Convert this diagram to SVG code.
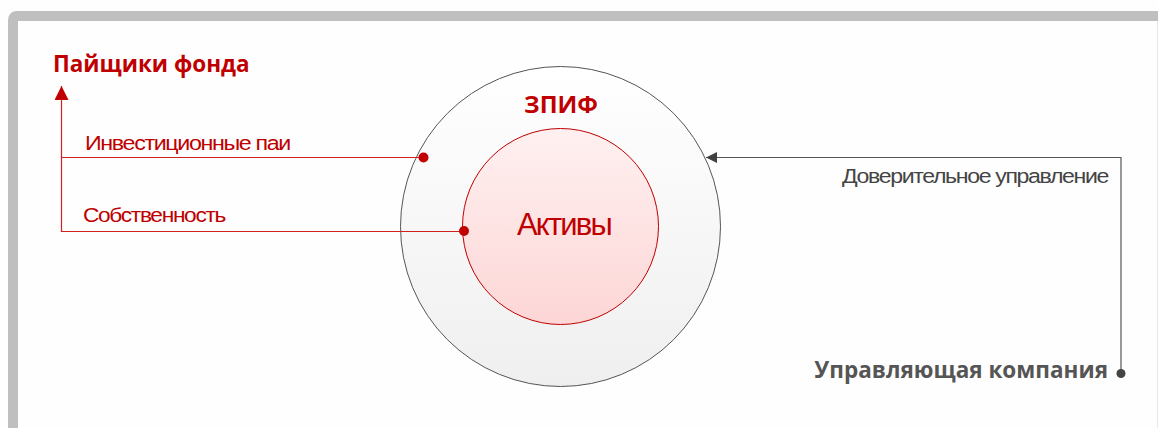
<svg xmlns="http://www.w3.org/2000/svg" width="1158" height="428" viewBox="0 0 1158 428">
<defs>
<linearGradient id="gOuter" x1="0" y1="0" x2="0" y2="1"><stop offset="0" stop-color="#ffffff"/><stop offset="1" stop-color="#efefef"/></linearGradient>
<linearGradient id="gInner" x1="0" y1="0" x2="0" y2="1"><stop offset="0" stop-color="#fff0f0"/><stop offset="1" stop-color="#fdd6d6"/></linearGradient>
<marker id="arrRed" viewBox="0 0 10 10" refX="10" refY="5" markerWidth="21" markerHeight="14" markerUnits="userSpaceOnUse" orient="auto"><path d="M0,0 L10,5 L0,10 Z" fill="#c00000"/></marker>
<marker id="arrGray" viewBox="0 0 10 10" refX="10" refY="5" markerWidth="11" markerHeight="12" markerUnits="userSpaceOnUse" orient="auto"><path d="M0,0 L10,5 L0,10 Z" fill="#404040"/></marker>
</defs>
<style>
.red{fill:#c00000}
.lbl{font-family:"Liberation Sans",Arial,sans-serif;font-size:20.5px;letter-spacing:-1.2px}
.bold{font-family:"Open Sans","Noto Sans",sans-serif;font-weight:bold}
</style>
<rect width="1158" height="428" fill="#fefefe"/>
<path d="M13,430 V20 Q13,16 17,16 H1162" fill="none" stroke="#bfbfbf" stroke-width="10"/>
<line x1="1157.5" y1="21" x2="1157.5" y2="428" stroke="#e8e8e8" stroke-width="1"/>

<g id="zpif">
<circle cx="560.5" cy="226.5" r="160" fill="url(#gOuter)" stroke="#555" stroke-width="1"/>
<text x="561" y="113" text-anchor="middle" class="bold red" font-size="24">ЗПИФ</text>
</g>
<g id="aktivy">
<circle cx="560.5" cy="226.5" r="98" fill="url(#gInner)" stroke="#c00000" stroke-width="1"/>
<text x="564" y="235" text-anchor="middle" class="red" font-family="Liberation Sans,Arial,sans-serif" font-size="31" letter-spacing="-1.8">Активы</text>
</g>
<g id="payshchiki">
<text x="53" y="72" class="bold red" font-size="22.5">Пайщики фонда</text>
</g>
<g id="uk">
<text x="1108" y="378" text-anchor="end" class="bold" font-size="22.5" fill="#555">Управляющая компания</text>
</g>

<g id="connectors">
<polyline points="423,157.5 62,157.5" fill="none" stroke="#d02020" stroke-width="1.2"/>
<polyline points="464,231.5 61.5,231.5 61.5,86" fill="none" stroke="#d02020" stroke-width="1.2" marker-end="url(#arrRed)"/>
<circle cx="423.5" cy="157.5" r="5" fill="#c00000"/>
<circle cx="464" cy="231" r="5" fill="#c00000"/>
<text x="85" y="150" class="lbl red" textLength="205" lengthAdjust="spacingAndGlyphs">Инвестиционные паи</text>
<text x="83" y="222" class="lbl red" textLength="142" lengthAdjust="spacingAndGlyphs">Собственность</text>
<polyline points="1121,373 1121,157.5 706,157.5" fill="none" stroke="#555" stroke-width="1.2" marker-end="url(#arrGray)"/>
<circle cx="1121" cy="373.5" r="4.5" fill="#444"/>
<text x="1108" y="183" text-anchor="end" class="lbl" fill="#444" textLength="266" lengthAdjust="spacingAndGlyphs">Доверительное управление</text>
</g>
</svg>
